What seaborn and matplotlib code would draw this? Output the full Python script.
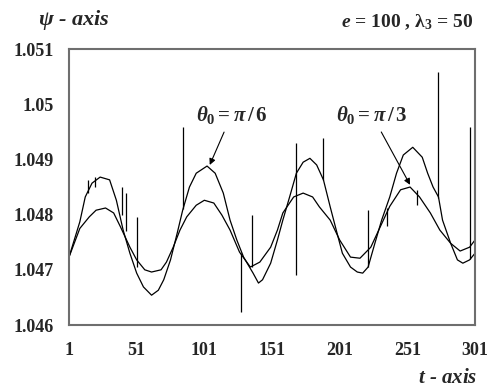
import numpy as np
import pandas as pd
import matplotlib
matplotlib.use("Agg")
import matplotlib.pyplot as plt
import seaborn as sns
from matplotlib.ticker import MultipleLocator, FixedLocator

# traced curve values, theta0 = pi/6 (larger swing)
pi6_t = [1, 9, 13, 18, 24, 31, 36, 41, 46, 51, 56, 62, 67, 71, 76, 81, 85, 90, 95,
         103, 109, 115, 120, 125, 130, 137, 141, 144, 150, 155, 159, 164, 169, 174,
         179, 184, 189, 194, 199, 203, 209, 214, 218, 222, 227, 232, 238, 243, 248,
         255, 262, 266, 270, 274, 277, 283, 288, 292, 297, 301]
pi6_v = [1.04723, 1.04787, 1.04832, 1.04857, 1.04868, 1.04863, 1.04826, 1.04772,
         1.04730, 1.04694, 1.04669, 1.04654, 1.04663, 1.04682, 1.04718, 1.04767,
         1.04808, 1.04850, 1.04875, 1.04888, 1.04875, 1.04839, 1.04790, 1.04754,
         1.04723, 1.04694, 1.04676, 1.04682, 1.04712, 1.04754, 1.04790, 1.04832,
         1.04875, 1.04895, 1.04902, 1.04890, 1.04863, 1.04814, 1.04767, 1.04730,
         1.04705, 1.04696, 1.04694, 1.04705, 1.04748, 1.04790, 1.04832, 1.04875,
         1.04908, 1.04922, 1.04904, 1.04875, 1.04850, 1.04832, 1.04790, 1.04748,
         1.04718, 1.04712, 1.04718, 1.04730]

# theta0 = pi/3 (smaller swing)
pi3_t = [1, 9, 16, 21, 28, 34, 39, 46, 51, 57, 62, 69, 73, 78, 83, 88, 95, 101,
         108, 114, 120, 127, 135, 142, 150, 155, 159, 167, 174, 181, 186, 194, 201,
         209, 216, 224, 231, 238, 246, 253, 260, 268, 275, 283, 290, 297, 301]
pi3_v = [1.04723, 1.04775, 1.04796, 1.04808, 1.04812, 1.04803, 1.04778, 1.04741,
         1.04718, 1.04700, 1.04696, 1.04700, 1.04714, 1.04741, 1.04772, 1.04796,
         1.04817, 1.04826, 1.04821, 1.04799, 1.04772, 1.04732, 1.04705, 1.04714,
         1.04741, 1.04772, 1.04803, 1.04832, 1.04839, 1.04832, 1.04814, 1.04790,
         1.04754, 1.04723, 1.04721, 1.04741, 1.04778, 1.04815, 1.04845, 1.04850,
         1.04832, 1.04803, 1.04772, 1.04748, 1.04734, 1.04741, 1.04754]

# isolated numerical spikes: position, start, tip
spike_t = [15, 20, 40, 43, 51, 85, 128, 136, 169, 189, 222, 236, 258, 274, 297]
spike_from = [1.04840, 1.04850, 1.04800, 1.04770, 1.04705, 1.04810, 1.04730,
              1.04705, 1.04690, 1.04863, 1.04705, 1.04812, 1.04845, 1.04830, 1.04720]
spike_to = [1.04862, 1.04868, 1.04850, 1.04840, 1.04796, 1.04959, 1.04624,
            1.04799, 1.04930, 1.04939, 1.04808, 1.04780, 1.04818, 1.05058, 1.04959]

x_ticks = [1, 51, 101, 151, 201, 251, 301]
y_ticks = [1.046, 1.047, 1.048, 1.049, 1.05, 1.051]
y_labels = ["1.046", "1.047", "1.048", "1.049", "1.05", "1.051"]

sns.set_style("white")
plt.rcParams["font.family"] = ["Liberation Serif", "DejaVu Serif"]
plt.rcParams["font.weight"] = "bold"
plt.rcParams["mathtext.fontset"] = "custom"
plt.rcParams["mathtext.rm"] = "Liberation Serif:bold"
plt.rcParams["mathtext.it"] = "Liberation Serif:italic:bold"
plt.rcParams["mathtext.bf"] = "Liberation Serif:bold"

fig = plt.figure(figsize=(4.88, 3.92), dpi=100)
ax = fig.add_axes([0.1414, 0.1709, 0.832, 0.704])

sns.lineplot(x=pi6_t, y=pi6_v, color="black", lw=0.9, ax=ax)
sns.lineplot(x=pi3_t, y=pi3_v, color="black", lw=0.9, ax=ax)
ax.vlines(spike_t, spike_from, spike_to, color="black", lw=0.9)

ax.set_xlim(1, 301)
ax.set_ylim(1.046, 1.051)
ax.xaxis.set_major_locator(FixedLocator(x_ticks))
ax.xaxis.set_minor_locator(FixedLocator(list(range(11, 301, 10))))
ax.yaxis.set_major_locator(FixedLocator(y_ticks))
ax.yaxis.set_minor_locator(MultipleLocator(0.0005))
ax.set_xticklabels([str(v) for v in x_ticks])
ax.set_yticklabels(y_labels)
ax.tick_params(which="both", direction="out", length=4, width=1.2, color="#6e6e6e",
               labelsize=13)
ax.tick_params(axis="y", pad=7)
ax.tick_params(axis="x", pad=8.5)
for sp in ax.spines.values():
    sp.set_color("#6e6e6e")
    sp.set_linewidth(1.5)
ax.set_xlabel("")
ax.set_ylabel("")

fig.text(0.078, 0.949, r"$\psi$ - axis", fontsize=16, style="italic",
         weight="bold", va="center", ha="left")
fig.text(0.969, 0.944, r"$e$ = 100 , $\mathbf{\lambda}_3$ = 50", fontsize=14,
         weight="bold", va="center", ha="right")
fig.text(0.979, 0.035, r"$t$ - axis", fontsize=15, style="italic",
         weight="bold", va="center", ha="right")

arrow = dict(arrowstyle="-|>", color="black", lw=0.8, mutation_scale=9,
             shrinkA=2, shrinkB=0)
ax.annotate(r"$\theta_0 = \pi\,/\,6$", xy=(105, 1.0489), xytext=(121, 1.0498),
            fontsize=15, ha="center", va="center", arrowprops=arrow)
ax.annotate(r"$\theta_0 = \pi\,/\,3$", xy=(253, 1.04854), xytext=(225, 1.0498),
            fontsize=15, ha="center", va="center", arrowprops=arrow)

fig.savefig("out.png", dpi=100, facecolor="white")
